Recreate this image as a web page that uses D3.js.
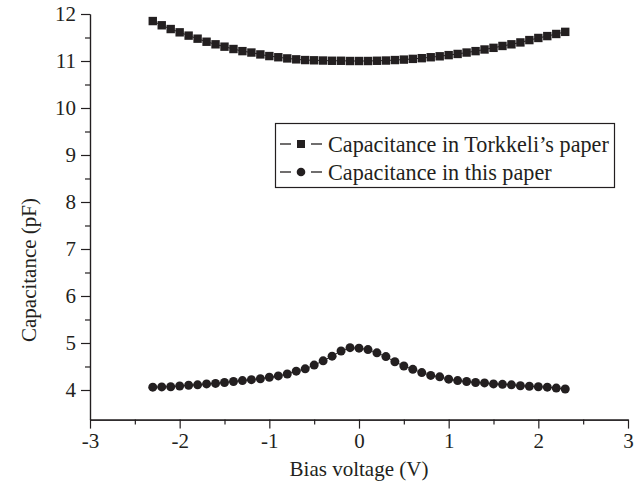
<!DOCTYPE html>
<html><head><meta charset="utf-8">
<script src="https://cdn.jsdelivr.net/npm/d3@7"></script>
<style>html,body{margin:0;padding:0;background:#fff;}svg{display:block;}</style>
</head><body>
<svg id="chart" width="642" height="485"></svg>
<script>
const voltage = [-2.3,-2.2,-2.1,-2.0,-1.9,-1.8,-1.7,-1.6,-1.5,-1.4,-1.3,-1.2,-1.1,-1.0,-0.9,-0.8,-0.7,-0.6,-0.5,-0.4,-0.3,-0.2,-0.1,0.0,0.1,0.2,0.3,0.4,0.5,0.6,0.7,0.8,0.9,1.0,1.1,1.2,1.3,1.4,1.5,1.6,1.7,1.8,1.9,2.0,2.1,2.2,2.3];
const capTorkkeli = [11.85,11.76,11.68,11.61,11.54,11.475,11.41,11.355,11.305,11.255,11.21,11.18,11.14,11.105,11.08,11.055,11.035,11.02,11.015,11.01,11.005,11.005,11.0,11.0,11.0,11.005,11.01,11.02,11.03,11.045,11.06,11.08,11.10,11.125,11.15,11.18,11.21,11.245,11.28,11.32,11.355,11.395,11.445,11.49,11.53,11.575,11.62];
const capThisPaper = [4.06,4.065,4.07,4.085,4.10,4.11,4.13,4.14,4.16,4.18,4.20,4.22,4.24,4.27,4.30,4.34,4.40,4.45,4.53,4.62,4.72,4.83,4.90,4.89,4.86,4.79,4.71,4.60,4.51,4.44,4.37,4.31,4.28,4.23,4.20,4.18,4.16,4.15,4.13,4.12,4.11,4.09,4.08,4.07,4.06,4.04,4.02];
const xTicks = [-3,-2,-1,0,1,2,3];
const yTicks = [4,5,6,7,8,9,10,11,12];
const seriesNames = ["Capacitance in Torkkeli\u2019s paper","Capacitance in this paper"];
const xTitle = "Bias voltage (V)";
const yTitle = "Capacitance (pF)";

const ink = "#231f20";
const font = "'Liberation Serif','Times New Roman',serif";
const svg = d3.select("#chart");
const x = d3.scaleLinear().domain([-3,3]).range([90,628]);
const y = d3.scaleLinear().domain([3.37,12]).range([419.6,14]);

const fmt = d => String(d);
const xAxis = d3.axisBottom(x).tickValues(xTicks).tickSize(9).tickSizeOuter(0).tickPadding(4).tickFormat(fmt);
const xMinor = d3.axisBottom(x).tickValues(d3.range(-2.5,3,1)).tickSize(5).tickSizeOuter(0).tickFormat("");
const yAxis = d3.axisLeft(y).tickValues(yTicks).tickSize(9).tickSizeOuter(0).tickPadding(5).tickFormat(fmt);
const yMinor = d3.axisLeft(y).tickValues(d3.range(4.5,12,1)).tickSize(5).tickSizeOuter(0).tickFormat("");

function style(g){
  g.select(".domain").attr("stroke",ink).attr("stroke-width",1.2);
  g.selectAll(".tick line").attr("stroke",ink).attr("stroke-width",1.2);
  g.selectAll("text").attr("fill",ink).style("font-family",font).style("font-size","21px");
}
svg.append("g").attr("transform",`translate(0,${y(3.37)})`).call(xMinor).call(style);
svg.append("g").attr("transform",`translate(0,${y(3.37)})`).call(xAxis).call(style);
svg.append("g").attr("transform",`translate(${x(-3)},0)`).call(yMinor).call(style);
svg.append("g").attr("transform",`translate(${x(-3)},0)`).call(yAxis).call(style);

svg.append("text").attr("x",359).attr("y",476).attr("text-anchor","middle")
  .attr("fill",ink).style("font-family",font).style("font-size","21px").text(xTitle);
svg.append("text").attr("transform","translate(36,270) rotate(-90)").attr("text-anchor","middle")
  .attr("fill",ink).style("font-family",font).style("font-size","21px").text(yTitle);

const line = d3.line().x((d,i)=>x(voltage[i])).y(d=>y(d));
svg.append("path").datum(capTorkkeli).attr("d",line).attr("fill","none").attr("stroke",ink).attr("stroke-width",1);
svg.append("path").datum(capThisPaper).attr("d",line).attr("fill","none").attr("stroke",ink).attr("stroke-width",1);
const sq = 8.4;
svg.append("g").selectAll("rect").data(capTorkkeli).join("rect")
  .attr("x",(d,i)=>x(voltage[i])-sq/2).attr("y",d=>y(d)-sq/2)
  .attr("width",sq).attr("height",sq).attr("fill",ink);
svg.append("g").selectAll("circle").data(capThisPaper).join("circle")
  .attr("cx",(d,i)=>x(voltage[i])).attr("cy",d=>y(d)).attr("r",4.5).attr("fill",ink);

const lg = svg.append("g");
lg.append("rect").attr("x",275.5).attr("y",123.5).attr("width",339).attr("height",64)
  .attr("fill","#fff").attr("stroke",ink).attr("stroke-width",1.2);
const rows = [144,172];
rows.forEach((ry,i)=>{
  lg.append("line").attr("x1",280).attr("x2",291).attr("y1",ry).attr("y2",ry).attr("stroke",ink).attr("stroke-width",1.3);
  lg.append("line").attr("x1",311).attr("x2",322).attr("y1",ry).attr("y2",ry).attr("stroke",ink).attr("stroke-width",1.3);
  if(i===0) lg.append("rect").attr("x",297).attr("y",ry-4).attr("width",8).attr("height",8).attr("fill",ink);
  else lg.append("circle").attr("cx",301).attr("cy",ry).attr("r",4.3).attr("fill",ink);
  lg.append("text").attr("x",328).attr("y",ry+7.5).attr("fill",ink)
    .style("font-family",font).style("font-size","22.2px").text(seriesNames[i]);
});
</script>
</body></html>
